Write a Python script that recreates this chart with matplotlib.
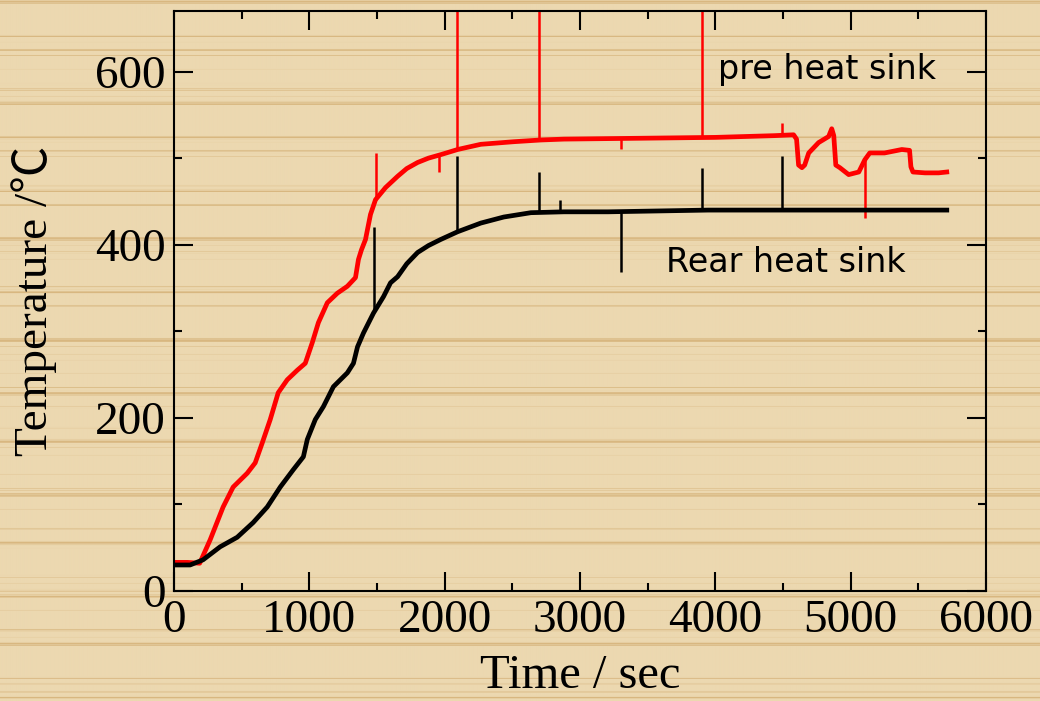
import matplotlib
matplotlib.use('Agg')
import matplotlib.pyplot as plt
from matplotlib.ticker import MultipleLocator
import numpy as np

# pre heat sink (red)
pre_t = [0, 100, 190, 267, 363, 437, 541, 600, 652, 711, 770, 837, 911, 970,
         1022, 1067, 1133, 1207, 1281, 1341, 1363, 1385, 1415, 1452, 1489,
         1563, 1652, 1720, 1800, 1880, 1970, 2096, 2267, 2511, 2711, 2881,
         3452, 4000, 4437, 4578, 4600, 4615, 4640, 4660, 4690, 4763, 4837,
         4860, 4875, 4890, 4920, 4985, 5060, 5104, 5141, 5250, 5378, 5435,
         5445, 5460, 5550, 5650, 5710]
pre_T = [33, 33, 32, 59, 97, 120, 136, 148, 171, 198, 229, 244, 255, 263,
         287, 310, 333, 344, 352, 362, 383, 394, 406, 435, 452,
         466, 479, 488, 495, 500, 504, 510, 516, 519, 521, 522,
         523, 524, 526, 527, 522, 492, 489, 492, 506, 518, 525,
         534, 526, 492, 489, 481, 484, 498, 506, 506, 510, 509,
         490, 484, 483, 483, 484]

# rear heat sink (black)
rear_t = [0, 119, 215, 341, 467, 585, 689, 785, 881, 956, 985, 1044, 1104,
          1178, 1281, 1326, 1356, 1400, 1474, 1548, 1600, 1652, 1720, 1800,
          1880, 1970, 2096, 2267, 2437, 2637, 2881, 3207, 3948, 4500, 5200,
          5710]
rear_T = [30, 30, 36, 51, 62, 79, 97, 120, 140, 155, 175, 198, 213,
          236, 252, 263, 282, 298, 321, 340, 356, 363, 378, 391,
          399, 406, 415, 425, 432, 437, 438, 438, 440, 440, 440,
          440]

# single-sample spikes: time, from, to
pre_spike_t = [1490, 1960, 2090, 2700, 3300, 3900, 4496, 5104]
pre_spike_lo = [452, 484, 510, 521, 510, 524, 526, 431]
pre_spike_hi = [506, 504, 700, 700, 523, 700, 541, 500]

rear_spike_t = [1481, 2089, 2696, 2852, 3304, 3904, 4496]
rear_spike_lo = [323, 415, 437, 438, 368, 440, 440]
rear_spike_hi = [420, 502, 484, 452, 438, 489, 502]

x_ticks = [0, 1000, 2000, 3000, 4000, 5000, 6000]
y_ticks = [0, 200, 400, 600]

fig = plt.figure(figsize=(10.4, 7.01), dpi=100)

# wood-like striped backdrop
rows = np.arange(701)
v = (np.sin(rows * 0.93) + np.sin(rows * 0.371 + 1.0) + np.sin(rows * 0.127 + 2.0)
     + 0.6 * np.sin(rows * 2.31))
dark = np.clip((v - 1.2) / 1.6, 0, 1)
light = np.array([236, 216, 176]) / 255.0
deep = np.array([216, 183, 128]) / 255.0
tex = light[None, :] * (1 - dark[:, None]) + deep[None, :] * dark[:, None]
tex = np.repeat(tex[:, None, :], 8, axis=1)
bg = fig.add_axes([0, 0, 1, 1], zorder=-5)
bg.imshow(tex, aspect='auto', interpolation='bilinear')
bg.axis('off')

ax = fig.add_axes([0.1673, 0.157, 0.7808, 0.8273])
ax.set_facecolor('none')

ax.plot(pre_t, pre_T, color='#ff0000', lw=3.4, solid_joinstyle='round')
ax.vlines(pre_spike_t, pre_spike_lo, pre_spike_hi, color='#ff0000', lw=1.8)
ax.plot(rear_t, rear_T, color='black', lw=3.4, solid_joinstyle='round')
ax.vlines(rear_spike_t, rear_spike_lo, rear_spike_hi, color='black', lw=1.8)

ax.set_xlim(0, 6000)
ax.set_ylim(0, 670)
ax.set_xticks(x_ticks)
ax.set_yticks(y_ticks)
ax.xaxis.set_minor_locator(MultipleLocator(500))
ax.yaxis.set_minor_locator(MultipleLocator(100))

serif = ['Liberation Serif', 'DejaVu Serif']
ax.tick_params(which='both', direction='in', top=True, right=True,
               width=1.5, colors='black')
ax.tick_params(which='major', length=13.5, pad=6, labelsize=34)
ax.tick_params(which='minor', length=6)
for lab in ax.get_xticklabels() + ax.get_yticklabels():
    lab.set_family(serif)
for s in ax.spines.values():
    s.set_linewidth(1.5)

ax.set_xlabel('Time / sec', fontsize=35, family=serif, labelpad=9)
ax.set_ylabel('Temperature /\u2103', fontsize=34,
              family=['Liberation Serif', 'Noto Sans CJK JP', 'DejaVu Serif'],
              labelpad=27)

sans = ['DejaVu Sans']
ax.text(4022, 592, 'pre heat sink', fontsize=24, family=sans, va='baseline')
ax.text(3637, 369, 'Rear heat sink', fontsize=24, family=sans, va='baseline')

fig.savefig('out.png', dpi=100)
